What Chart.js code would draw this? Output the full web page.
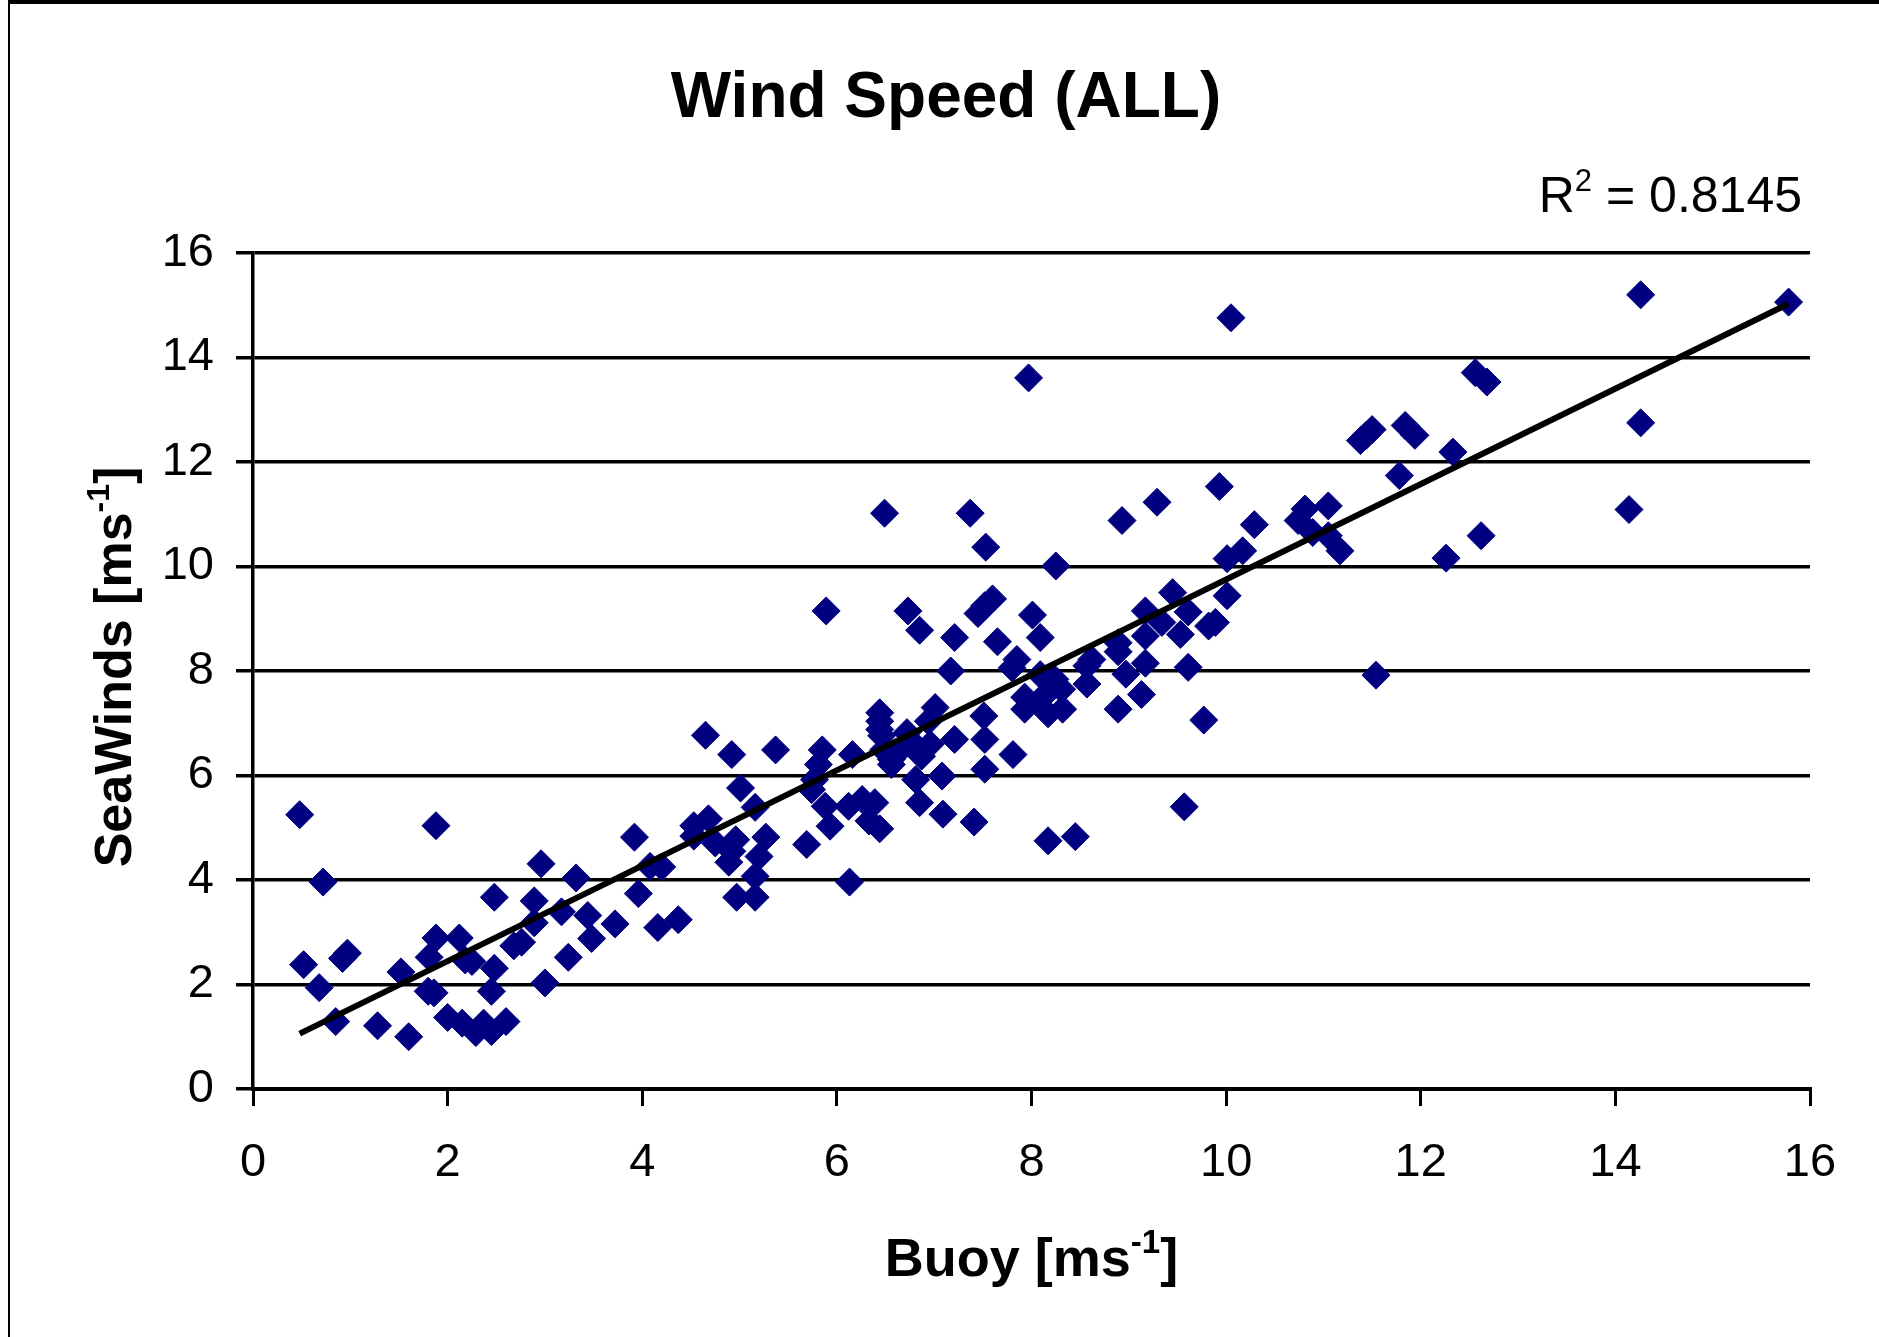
<!DOCTYPE html>
<html>
<head>
<meta charset="utf-8">
<title>Wind Speed (ALL)</title>
<script src="https://cdn.jsdelivr.net/npm/chart.js@4.4.1/dist/chart.umd.min.js"></script>
<style>
  html, body { margin: 0; padding: 0; background: #fff; }
  canvas { display: block; }
</style>
</head>
<body>
<canvas id="windChart" width="1879" height="1337"></canvas>
<script>
// datos: Buoy (x) vs SeaWinds (y), m/s
const buoy = [
  0.48, 0.72, 0.52, 0.68, 0.92, 0.97, 0.85, 1.28, 1.60, 1.52,
  1.88, 1.88, 1.81, 1.80, 1.86, 2.12, 2.00, 2.18, 2.25, 2.15,
  2.29, 2.37, 2.45, 2.60, 2.48, 2.48, 2.45, 2.96, 2.89, 2.89,
  2.68, 2.76, 3.00, 3.17, 3.32, 3.44, 3.48, 3.24, 3.72, 3.92,
  3.96, 4.08, 4.20, 4.16, 4.37, 4.65, 4.92, 5.01, 5.16, 4.53,
  4.68, 4.53, 4.75, 4.89, 4.96, 4.92, 4.97, 5.16, 5.16, 5.20,
  5.27, 10.05, 7.97, 6.49, 7.37, 7.53, 8.25, 8.93, 9.29, 9.93,
  10.29, 10.01, 10.17, 10.01, 5.89, 6.73, 6.85, 7.21, 7.45, 7.52,
  7.60, 7.65, 8.01, 8.09, 7.17, 7.85, 7.80, 8.09, 8.24, 8.31,
  7.93, 8.17, 8.17, 8.32, 7.93, 8.10, 8.57, 8.57, 8.62, 8.89,
  8.89, 9.17, 9.17, 9.34, 9.45, 9.61, 9.53, 9.82, 9.89, 8.97,
  9.17, 9.13, 8.89, 9.61, 9.77, 5.37, 5.85, 5.81, 5.77, 6.16,
  6.44, 6.44, 6.44, 6.46, 6.56, 6.48, 6.72, 6.63, 6.84, 6.96,
  6.81, 7.01, 6.94, 7.08, 7.21, 7.51, 7.52, 7.52, 7.81, 6.56,
  6.87, 9.57, 8.17, 8.45, 7.41, 7.09, 6.85, 6.13, 5.69, 5.93,
  5.88, 6.12, 6.26, 6.39, 6.44, 6.33, 5.74, 14.26, 15.78, 14.26,
  14.14, 12.56, 12.68, 11.38, 11.44, 11.50, 11.84, 11.94, 12.33, 11.78,
  10.81, 11.05, 10.74, 10.89, 11.05, 11.17, 12.62, 12.26, 11.54
];
const seaWinds = [
  5.25, 3.96, 2.38, 1.94, 2.50, 2.60, 1.29, 1.21, 1.00, 2.24,
  5.04, 2.89, 2.52, 1.87, 1.84, 2.89, 1.37, 2.47, 2.44, 1.26,
  1.08, 1.26, 1.10, 1.29, 3.67, 2.31, 1.87, 4.31, 3.60, 3.18,
  2.74, 2.81, 2.03, 3.39, 4.04, 3.32, 2.88, 2.52, 3.16, 4.82,
  3.74, 4.26, 4.25, 3.09, 3.24, 6.77, 6.40, 5.76, 5.39, 5.04,
  5.17, 4.84, 4.71, 4.34, 4.77, 4.55, 3.67, 3.67, 4.07, 4.45,
  4.82, 14.76, 13.61, 11.02, 11.02, 10.37, 10.01, 10.88, 11.23, 11.53,
  10.80, 10.15, 10.30, 9.44, 9.15, 9.15, 8.78, 8.64, 9.10, 9.25,
  9.38, 8.56, 9.07, 8.64, 8.00, 8.22, 8.06, 7.93, 7.84, 7.65,
  7.50, 7.60, 7.18, 7.27, 7.27, 7.47, 7.75, 8.10, 8.22, 8.54,
  8.37, 9.15, 8.67, 8.93, 9.50, 9.13, 8.70, 8.86, 8.93, 7.94,
  8.15, 7.55, 7.27, 8.07, 7.06, 6.49, 6.49, 6.21, 5.92, 6.40,
  7.20, 7.04, 6.88, 6.76, 6.21, 6.49, 6.82, 6.45, 6.51, 6.60,
  5.92, 7.30, 7.04, 5.99, 6.69, 7.14, 6.69, 6.12, 6.40, 6.31,
  6.37, 5.40, 4.75, 4.83, 5.11, 5.26, 5.48, 3.96, 4.68, 5.03,
  5.41, 5.41, 5.54, 5.48, 4.98, 5.13, 5.73, 15.20, 15.06, 12.75,
  11.09, 13.71, 13.53, 12.41, 12.51, 12.62, 12.70, 12.51, 12.19, 11.74,
  11.10, 11.16, 10.88, 10.65, 10.59, 10.30, 10.59, 10.16, 7.92
];
// linea de tendencia (extremos)
const trendX = [0.48, 15.78];
const trendY = [1.06, 15.03];

const axisMin = 0;
const axisMax = 16;
const axisStep = 2;

const chartTitle = 'Wind Speed (ALL)';
const xTitle = [['Buoy [ms'], ['-1', true], [']']];
const yTitle = [['SeaWinds [ms'], ['-1', true], [']']];
const r2Label = [['R'], ['2', true], [' = 0.8145']];

const FONT = '"Liberation Sans", Arial, Helvetica, sans-serif';
const NAVY = '#000080';

// texto con superindice: parts = [[texto, esSup], ...]
function drawRich(ctx, parts, x, y, align, size, weight) {
  const supSize = Math.round(size * 0.62);
  const widths = parts.map(p => {
    ctx.font = weight + ' ' + (p[1] ? supSize : size) + 'px ' + FONT;
    return ctx.measureText(p[0]).width;
  });
  const total = widths.reduce((a, b) => a + b, 0);
  let cx = align === 'center' ? x - total / 2 : (align === 'right' ? x - total : x);
  ctx.textAlign = 'left';
  ctx.textBaseline = 'alphabetic';
  parts.forEach((p, i) => {
    ctx.font = weight + ' ' + (p[1] ? supSize : size) + 'px ' + FONT;
    ctx.fillText(p[0], cx, p[1] ? y - size * 0.42 : y);
    cx += widths[i];
  });
}

const labelsPlugin = {
  id: 'labelsPlugin',
  afterDraw(chart) {
    const ctx = chart.ctx;
    const area = chart.chartArea;
    ctx.save();
    ctx.fillStyle = '#000';

    // marco (solo arriba e izquierda visibles)
    ctx.fillRect(8, 0, chart.width - 8, 4);
    ctx.fillRect(8, 0, 2, chart.height);

    // titulo
    ctx.font = 'bold 64px ' + FONT;
    ctx.textAlign = 'center';
    ctx.textBaseline = 'alphabetic';
    ctx.fillText(chartTitle, 946, 117);

    // R^2
    drawRich(ctx, r2Label, 1802, 212, 'right', 50, 'normal');

    // titulo eje x
    drawRich(ctx, xTitle, (area.left + area.right) / 2, 1276, 'center', 54, 'bold');

    // titulo eje y (rotado)
    ctx.translate(131, (area.top + area.bottom) / 2 - 4);
    ctx.rotate(-Math.PI / 2);
    drawRich(ctx, yTitle, 0, 0, 'center', 52, 'bold');
    ctx.restore();
  }
};

const points = buoy.map((x, i) => ({ x: x, y: seaWinds[i] }));
const trend = trendX.map((x, i) => ({ x: x, y: trendY[i] }));

new Chart(document.getElementById('windChart').getContext('2d'), {
  type: 'scatter',
  data: {
    datasets: [
      {
        label: 'Trend',
        data: trend,
        showLine: true,
        borderColor: '#000',
        borderWidth: 6,
        pointRadius: 0,
        fill: false,
        order: 0
      },
      {
        label: 'Wind Speed',
        data: points,
        pointStyle: 'rectRot',
        pointRadius: 14,
        pointBackgroundColor: NAVY,
        pointBorderColor: NAVY,
        pointBorderWidth: 1,
        order: 1
      }
    ]
  },
  options: {
    responsive: false,
    animation: false,
    events: [],
    layout: { padding: { top: 253, right: 69, left: 0, bottom: 0 } },
    plugins: {
      legend: { display: false },
      tooltip: { enabled: false },
      title: { display: false }
    },
    scales: {
      x: {
        type: 'linear',
        min: axisMin,
        max: axisMax,
        ticks: {
          stepSize: axisStep,
          color: '#000',
          padding: 29,
          maxRotation: 0,
          font: { family: FONT, size: 47 }
        },
        grid: {
          drawOnChartArea: false,
          drawTicks: true,
          tickLength: 17,
          color: '#000',
          lineWidth: 3
        },
        border: { display: true, color: '#000', width: 4 },
        afterFit(scale) { scale.height = 248; }
      },
      y: {
        type: 'linear',
        min: axisMin,
        max: axisMax,
        ticks: {
          stepSize: axisStep,
          color: '#000',
          padding: 22,
          font: { family: FONT, size: 47 }
        },
        grid: {
          color: '#000',
          lineWidth: 3.5,
          tickLength: 17
        },
        border: { display: true, color: '#000', width: 3.5 },
        afterFit(scale) { scale.width = 253; }
      }
    }
  },
  plugins: [labelsPlugin]
});
</script>
</body>
</html>
